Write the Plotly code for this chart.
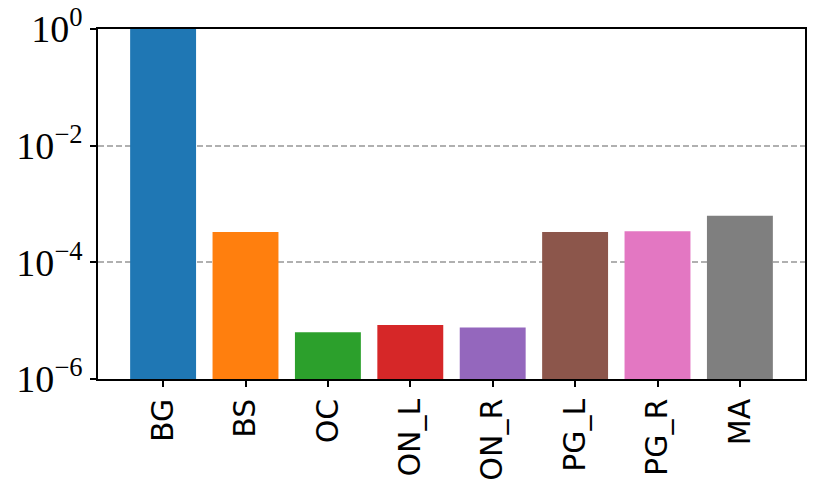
import plotly.graph_objects as go

regions = ["BG", "BS", "OC", "ON_L", "ON_R", "PG_L", "PG_R", "MA"]
values = [1.0, 3.3e-4, 6.3e-6, 8.4e-6, 7.6e-6, 3.3e-4, 3.4e-4, 6.3e-4]
colors = ["#1f77b4", "#ff7f0e", "#2ca02c", "#d62728",
          "#9467bd", "#8c564b", "#e377c2", "#7f7f7f"]
ytick_vals = [1e-6, 1e-4, 1e-2, 1e0]
ytick_text = ["10<sup>\u22126</sup>", "10<sup>\u22124</sup>",
              "10<sup>\u22122</sup>", "10<sup>0</sup>"]

fig = go.Figure(go.Bar(
    x=regions,
    y=values,
    marker_color=colors,
    marker_line_width=0,
))
fig.update_layout(
    width=821,
    height=497,
    bargap=0.2,
    paper_bgcolor="white",
    plot_bgcolor="white",
    showlegend=False,
    margin=dict(l=98, r=16, t=29, b=118),
    xaxis=dict(
        range=[-0.79, 7.79],
        automargin=False,
        tickangle=-90,
        tickfont=dict(family="DejaVu Sans", size=30, color="black"),
        ticks="outside", ticklen=6, tickwidth=1.5, tickcolor="black",
        showline=True, linecolor="black", linewidth=1.5, mirror=True,
        showgrid=False,
    ),
    yaxis=dict(
        type="log",
        range=[-6, 0],
        automargin=False,
        tickvals=ytick_vals,
        ticktext=ytick_text,
        tickfont=dict(family="Liberation Serif", size=38, color="black"),
        ticks="outside", ticklen=6, tickwidth=1.5, tickcolor="black",
        showline=True, linecolor="black", linewidth=1.5, mirror=True,
        showgrid=True, gridcolor="#b0b0b0", gridwidth=1.5, griddash="6px,3px",
        zeroline=False,
    ),
)
fig.write_html(
    "out.html",
    config={"displayModeBar": False},
    post_script="document.body.style.margin='0';document.body.style.overflow='hidden';",
)
